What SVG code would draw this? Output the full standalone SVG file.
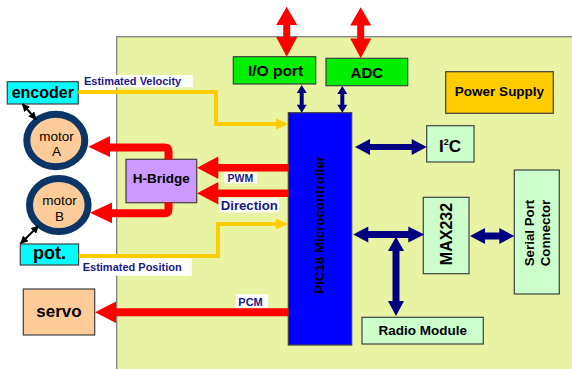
<svg xmlns="http://www.w3.org/2000/svg" width="572" height="369" viewBox="0 0 572 369">
<defs>
<style>
.box{stroke:#404040;stroke-width:1.2}
.t{font-family:"Liberation Sans",Arial,sans-serif;font-weight:bold;fill:#000;text-anchor:middle}
.m{font-family:"Liberation Sans",Arial,sans-serif;font-weight:normal;fill:#000;text-anchor:middle;font-size:13.5px}
.lbl{font-family:"Liberation Sans",Arial,sans-serif;font-weight:bold;fill:#1a1a80}
.red{fill:#ff0000}
.redline{fill:none;stroke:#ff0000;stroke-width:8}
.navy{fill:#000080}
.yel{fill:none;stroke:#ffcc00;stroke-width:4}
.yelh{fill:#ffcc00}
.motor{fill:#ffcc99;stroke:#0a3566;stroke-width:7}
</style>
<marker id="bk" viewBox="0 0 10 10" refX="9" refY="5" markerWidth="4" markerHeight="4" orient="auto-start-reverse">
<path d="M0,0 L10,5 L0,10 Z" fill="#000"/>
</marker>
</defs>
<rect width="572" height="369" fill="#ffffff"/>
<rect id="panel" x="116.7" y="36.7" width="460" height="340" fill="#e8f4a4" stroke="#808080" stroke-width="1.3"/>

<g id="pic"><rect class="box" x="288.3" y="112.7" width="63.4" height="232.3" fill="#0000ff" stroke="#000060"/><text class="t" font-size="13.3" transform="translate(319.5,225) rotate(-90)" y="4.7">PIC18 Microcontroller</text></g>
<g id="ioport"><rect class="box" x="233.3" y="56.7" width="82.4" height="27.3" fill="#00ee00"/><text class="t" font-size="15.5" x="275.5" y="76">I/O port</text></g>
<g id="adc"><rect class="box" x="326" y="58.3" width="81.7" height="27.4" fill="#00ee00"/><text class="t" font-size="15" x="366.8" y="78">ADC</text></g>
<g id="power"><rect class="box" x="445.7" y="71.7" width="107.6" height="41.6" fill="#ffcc00"/><text class="t" font-size="13.5" x="499.5" y="96">Power Supply</text></g>
<g id="i2c"><rect class="box" x="426.7" y="125.7" width="47.3" height="36.3" fill="#ccffcc"/><text class="t" font-size="17" x="450" y="152">I<tspan font-size="9" dy="-7">2</tspan><tspan dy="7">C</tspan></text></g>
<g id="max232"><rect class="box" x="423.3" y="197.3" width="45.7" height="76.4" fill="#ccffcc"/><text class="t" font-size="16" transform="translate(446,234) rotate(-90)" y="5.7">MAX232</text></g>
<g id="serial"><rect class="box" x="514.3" y="170" width="45" height="124" fill="#ccffcc"/><text class="t" font-size="13.3" transform="translate(536.7,233) rotate(-90)"><tspan x="0" y="-3">Serial Port</tspan><tspan x="0" y="13.7">Connector</tspan></text></g>
<g id="radio"><rect class="box" x="362" y="317.3" width="121.3" height="26.7" fill="#ccffcc"/><text class="t" font-size="13.5" x="422.7" y="335">Radio Module</text></g>
<g id="hbridge"><rect class="box" x="126" y="159.3" width="70.7" height="43.4" fill="#cc99ff"/><text class="t" font-size="13.5" x="161.3" y="183">H-Bridge</text></g>
<g id="encoder"><rect class="box" x="7.3" y="81.7" width="71" height="22.3" fill="#00ffff"/><text class="t" font-size="16" x="42.8" y="98">encoder</text></g>
<g id="pot"><rect class="box" x="20.3" y="244" width="58.3" height="21" fill="#00ffff"/><text class="t" font-size="18" x="49.5" y="259">pot.</text></g>
<g id="servo"><rect class="box" x="23.3" y="289" width="71.4" height="46" fill="#ffcc99"/><text class="t" font-size="17" x="59" y="316.5">servo</text></g>
<g id="motorA"><ellipse class="motor" cx="55.8" cy="140.5" rx="29" ry="26.2"/><text class="m" x="56.5" y="140.5">motor</text><text class="m" x="56.5" y="156">A</text></g>
<g id="motorB"><ellipse class="motor" cx="58.8" cy="205" rx="29.3" ry="26.5"/><text class="m" x="59.5" y="205">motor</text><text class="m" x="59.5" y="220.5">B</text></g>

<g id="connectors">
<path class="red" d="M286.7,6.7 L297.2,25 L290.2,25 L290.2,37 L297.2,37 L286.7,56.7 L276.2,37 L283.2,37 L283.2,25 L276.2,25 Z"/>
<path class="red" d="M360.7,7.3 L371.2,25.5 L364.2,25.5 L364.2,38.5 L371.2,38.5 L360.7,58.3 L350.2,38.5 L357.2,38.5 L357.2,25.5 L350.2,25.5 Z"/>
<path class="navy" d="M301.7,85 L306.7,93 L303.7,93 L303.7,104.7 L306.7,104.7 L301.7,112.7 L296.7,104.7 L299.7,104.7 L299.7,93 L296.7,93 Z"/>
<path class="navy" d="M342.3,86 L347.3,94 L344.3,94 L344.3,104.7 L347.3,104.7 L342.3,112.7 L337.3,104.7 L340.3,104.7 L340.3,94 L337.3,94 Z"/>
<path class="navy" d="M355,147 L370,139 L370,144 L411.7,144 L411.7,139 L426.7,147 L411.7,155 L411.7,150 L370,150 L370,155 Z"/>
<path class="navy" d="M353.3,234.5 L368.3,226.5 L368.3,231 L408.3,231 L408.3,226.5 L424.3,234.5 L408.3,242.5 L408.3,238 L368.3,238 L368.3,242.5 Z"/>
<path class="navy" d="M396,236.7 L404,251 L399.5,251 L399.5,301 L404,301 L396,316 L388,301 L392.5,301 L392.5,251 L388,251 Z"/>
<path class="navy" d="M470,236 L485,228 L485,232.5 L499.3,232.5 L499.3,228 L514.3,236 L499.3,244 L499.3,239.5 L485,239.5 L485,244 Z"/>
<path class="red" d="M197,167.7 L218.3,156.5 L218.3,164 L288.3,164 L288.3,171.5 L218.3,171.5 L218.3,179 Z"/>
<path class="red" d="M197,193.3 L218.3,182 L218.3,189.5 L288.3,189.5 L288.3,197 L218.3,197 L218.3,204.5 Z"/>
<path class="red" d="M95,312.3 L116,301.5 L116,308.3 L288.3,308.3 L288.3,316.3 L116,316.3 L116,323 Z"/>
<path class="redline" d="M168.5,159.5 V151.5 Q168.5,147.5 164.5,147.5 H108"/>
<path class="red" d="M88.3,146.8 L110,136 L110,157 Z"/>
<path class="redline" d="M168.5,202.5 V209.3 Q168.5,213.3 164.5,213.3 H110"/>
<path class="red" d="M90,212.7 L112,202.5 L112,223.3 Z"/>
<path class="yel" d="M78.3,92 H216 V124 H277"/>
<path class="yelh" d="M288.3,124 L276,118.5 L276,129.5 Z"/>
<path class="yel" d="M78.6,256 H218 V224 H277"/>
<path class="yelh" d="M288.3,224 L276,218.5 L276,229.5 Z"/>
<line x1="22.5" y1="104" x2="36" y2="119.3" stroke="#000" stroke-width="2" marker-start="url(#bk)" marker-end="url(#bk)"/>
<line x1="38.3" y1="226" x2="20.7" y2="243.5" stroke="#000" stroke-width="2" marker-start="url(#bk)" marker-end="url(#bk)"/>
</g>

<g id="labels">
<rect x="83.3" y="75" width="109.4" height="12.3" fill="#fff"/>
<text class="lbl" font-size="11" x="84" y="85">Estimated Velocity</text>
<rect x="80" y="258.3" width="111.7" height="17.4" fill="#fff"/>
<text class="lbl" font-size="11" x="82.7" y="270.5">Estimated Position</text>
<rect x="224" y="172.7" width="32.7" height="10.6" fill="#fff"/>
<text class="lbl" font-size="10.5" x="227.5" y="181.7">PWM</text>
<rect x="219.3" y="198.3" width="59.7" height="14" fill="#fff"/>
<text class="lbl" font-size="13.2" x="220.7" y="210">Direction</text>
<rect x="236" y="294.3" width="32.3" height="13.4" fill="#fff"/>
<text class="lbl" font-size="11" x="238.3" y="305.7">PCM</text>
</g>
</svg>
